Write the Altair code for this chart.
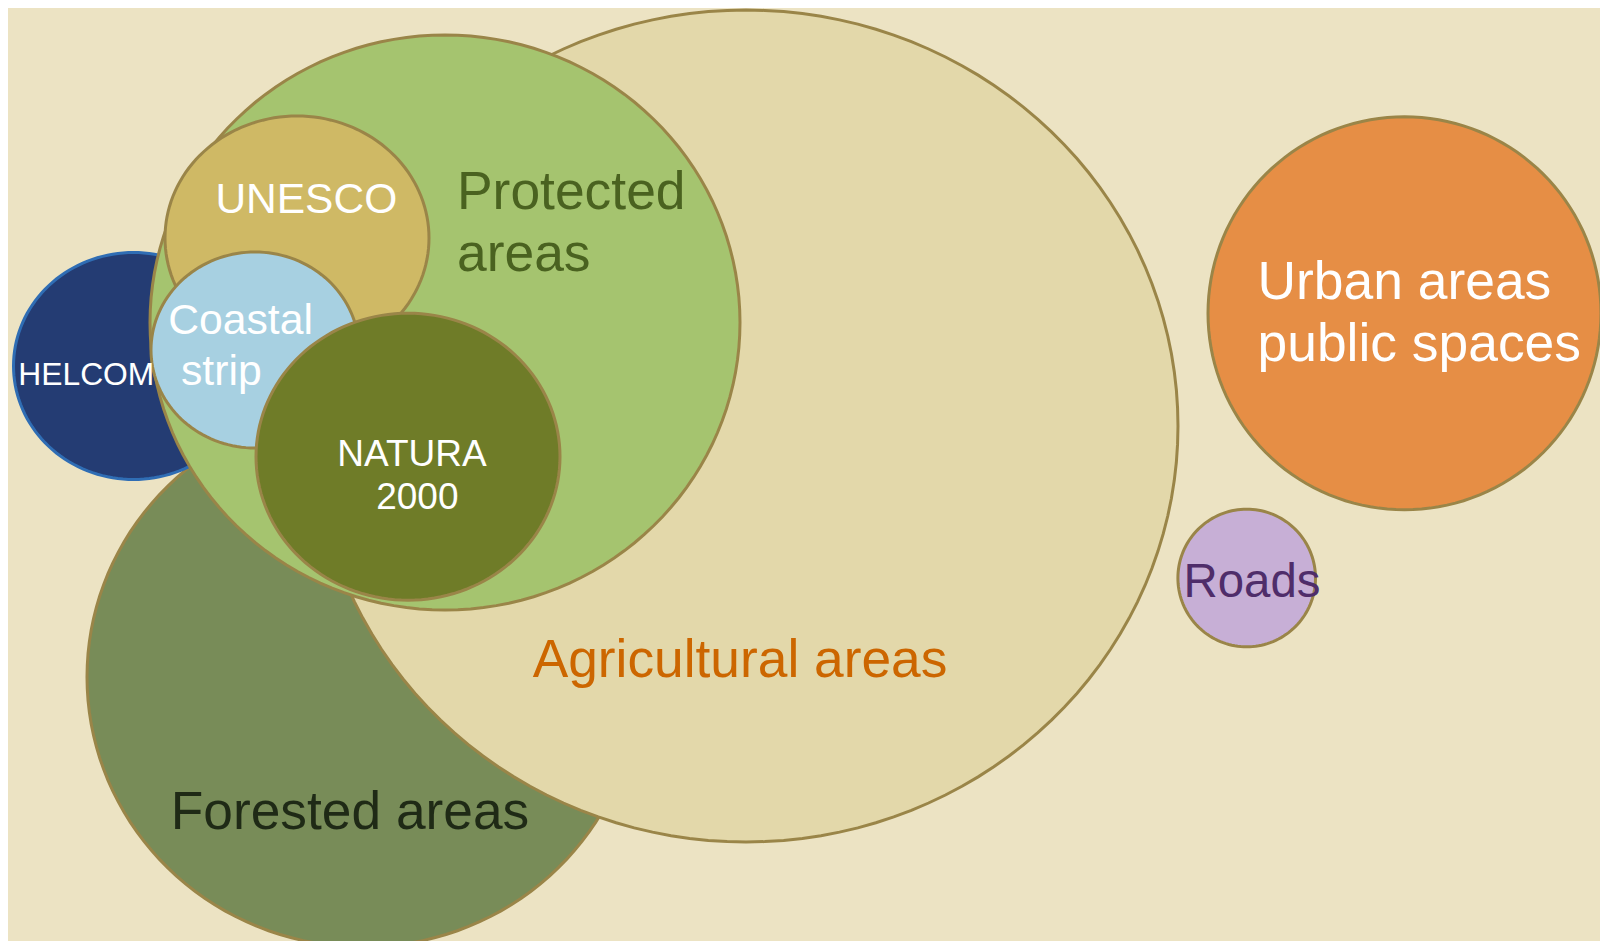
import altair as alt
import pandas as pd
import numpy as np

# ---- ellipses (page pixel coordinates) ----
names = ["Forested areas", "Agricultural areas", "HELCOM", "Protected areas",
         "UNESCO", "Coastal strip", "NATURA 2000", "Urban areas", "Roads"]
cx = [363, 746, 133.5, 445, 297, 255, 408, 1404.5, 1246.7]
cy = [677, 426, 366, 322.5, 238, 350, 456.7, 313.3, 578]
rx = [276, 432, 120, 295, 132, 104, 152, 196.5, 68.8]
ry = [270, 416, 113.5, 287.5, 122, 98, 143.5, 196.5, 68.8]
fills = ["#788c58", "#e3d8aa", "#243c73", "#a5c46f", "#cfb965",
         "#a7d0e1", "#6f7c28", "#e68e45", "#c7afd6"]
strokes = ["#9a8548", "#9a8548", "#2f6db4", "#9a8548", "#9a8548",
           "#9a8548", "#9a8548", "#9a8548", "#9a8548"]

# ---- labels ----
lab_text = ["Protected", "areas", "Coastal", "strip", "Urban areas", "public spaces",
            "UNESCO", "HELCOM", "NATURA", "2000", "Forested areas",
            "Agricultural areas", "Roads"]
lab_x = [457, 457, 168.2, 181.0, 1257.5, 1257.5,
         306.3, 86.3, 412, 417.3, 350, 740, 1252]
lab_y = [209.3, 270.7, 334.3, 385, 299.3, 360.7,
         213.3, 385, 465.7, 509.3, 829, 677.3, 596.7]
lab_size = [53.4, 53.4, 42.7, 42.7, 53.4, 53.4, 42.5, 31.8, 37, 37, 53.3, 53.3, 47.4]
lab_color = ["#4a6220", "#4a6220", "#ffffff", "#ffffff", "#ffffff", "#ffffff",
             "#ffffff", "#ffffff", "#ffffff", "#ffffff", "#1f2a16", "#cc6600", "#4f2d6a"]
lab_align = ["left"] * 6 + ["center"] * 7


def ellipse_path(a, b, n=144):
    m = max(a, b)
    pts = []
    for k in range(n):
        t = 2 * np.pi * k / n
        pts.append(f"{a / m * np.cos(t):.4f},{b / m * np.sin(t):.4f}")
    return "M" + " L".join(pts) + " Z"


shapes = pd.DataFrame({
    "name": names,
    "cx": cx,
    "cy": cy,
    "path": [ellipse_path(a, b) for a, b in zip(rx, ry)],
    "area": [(2 * max(a, b)) ** 2 for a, b in zip(rx, ry)],
    "fill": fills,
    "stroke": strokes,
    "z": list(range(len(names))),
})

labels = pd.DataFrame({
    "text": lab_text, "x": lab_x, "y": lab_y, "size": lab_size,
    "color": lab_color, "align": lab_align,
})

W, H = 1592, 933
xs = alt.Scale(domain=[8, 8 + W], nice=False, zero=False)
ys = alt.Scale(domain=[8 + H, 8], nice=False, zero=False)

ell = alt.Chart(shapes).mark_point(
    filled=True, opacity=1, fillOpacity=1, strokeOpacity=1, strokeWidth=3
).encode(
    x=alt.X("cx:Q", scale=xs, axis=None),
    y=alt.Y("cy:Q", scale=ys, axis=None),
    shape=alt.Shape("path:N", scale=None),
    size=alt.Size("area:Q", scale=None),
    fill=alt.Fill("fill:N", scale=None),
    stroke=alt.Stroke("stroke:N", scale=None),
    order=alt.Order("z:Q"),
)


def text_layer(align):
    return alt.Chart(labels).transform_filter(
        alt.datum.align == align
    ).mark_text(
        font="Liberation Sans", baseline="alphabetic", align=align
    ).encode(
        x=alt.X("x:Q", scale=xs, axis=None),
        y=alt.Y("y:Q", scale=ys, axis=None),
        text="text:N",
        size=alt.Size("size:Q", scale=None),
        color=alt.Color("color:N", scale=None),
    )


chart = alt.layer(ell, text_layer("left"), text_layer("center")).properties(
    width=W, height=H, padding=0,
    autosize=alt.AutoSizeParams(type="none"),
    background="#ece3c3",
).configure_view(stroke=None)

chart.save("out.html", embed_options={"renderer": "svg", "actions": False})
